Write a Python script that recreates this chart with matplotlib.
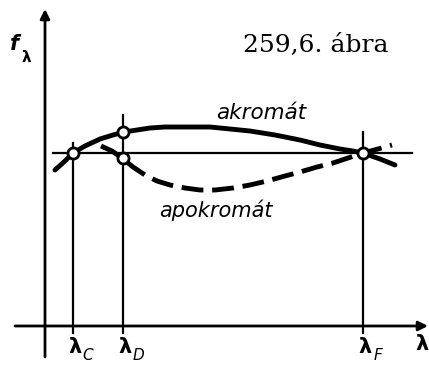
import matplotlib.pyplot as plt
import numpy as np

# wavelengths of the C, D and F lines and the common focal length
lam_C, lam_D, lam_F = 28, 78, 318
f_common = 173

# achromat: focal length vs wavelength
akro_lam = [10, 20, 28, 40, 55, 68, 79, 92, 105, 120, 135, 150, 165, 185,
            205, 230, 255, 275, 295, 308, 318, 335, 350]
akro_f = [156, 165, 173, 180, 187, 191, 194, 196, 198, 199, 199, 199, 199, 197,
          195, 191, 186, 181, 177, 175, 173, 167, 161]

# apochromat (dashed)
apo_lam = [56, 67, 77, 88, 100, 112, 125, 140, 155, 170, 188, 205, 222,
           240, 255, 272, 288, 303, 318, 333, 347]
apo_f = [180, 175, 168, 159, 151, 145, 141, 138, 136, 136, 138, 141, 145,
         150, 154, 159, 163, 168, 173, 177, 181]

# crossing points marked with small circles
pts_lam = [lam_C, lam_D, lam_D, lam_F]
pts_f = [173, 194, 168, 173]

# top ends of the vertical guide lines
guide_top = [183, 211, 194]

fig = plt.figure(figsize=(4.29, 3.65), dpi=100)
ax = fig.add_axes([0, 0, 1, 1])
ax.set_xlim(-45, 384)
ax.set_ylim(-39, 326)
ax.axis('off')

# axes with arrows
ax.annotate('', xy=(383, 0), xytext=(-30, 0),
            arrowprops=dict(arrowstyle='-|>', lw=2, color='black', mutation_scale=14,
                            shrinkA=0, shrinkB=0))
ax.annotate('', xy=(0, 317), xytext=(0, -31),
            arrowprops=dict(arrowstyle='-|>', lw=2, color='black', mutation_scale=14,
                            shrinkA=0, shrinkB=0))

# vertical guides and the horizontal reference line
for lam, top in zip([lam_C, lam_D, lam_F], guide_top):
    ax.plot([lam, lam], [-7, top], color='black', lw=1.6)
ax.plot([8, 367], [f_common, f_common], color='black', lw=1.6)

ax.plot(akro_lam, akro_f, color='black', lw=3.5, solid_capstyle='round')
ax.plot(apo_lam, apo_f, color='black', lw=3.5, dashes=(4.5, 1.8), solid_capstyle='butt')

ax.plot(pts_lam, pts_f, 'o', ms=8, mfc='white', mec='black', mew=2, zorder=5)

# labels
ax.text(216, 213, 'akromát', style='italic', fontsize=15.5, ha='center', va='center')
ax.text(171, 116, 'apokromát', style='italic', fontsize=15, ha='center', va='center')
ax.text(271, 281, '259,6. ábra', family='DejaVu Serif', fontsize=18, ha='center', va='center')

ax.text(-30, 282, 'f', style='italic', weight='bold', fontsize=15, ha='center', va='center')
ax.text(-19, 268, 'λ', weight='bold', fontsize=11, ha='center', va='center')

for lam, sub in zip([lam_C, lam_D, lam_F], ['C', 'D', 'F']):
    ax.text(lam + 2, -21, 'λ', weight='bold', fontsize=15, ha='center', va='center')
    ax.text(lam + 15, -30, sub, style='italic', fontsize=11, ha='center', va='center')
ax.text(377, -18, 'λ', weight='bold', fontsize=15, ha='center', va='center')

fig.savefig('out.png', dpi=100)
